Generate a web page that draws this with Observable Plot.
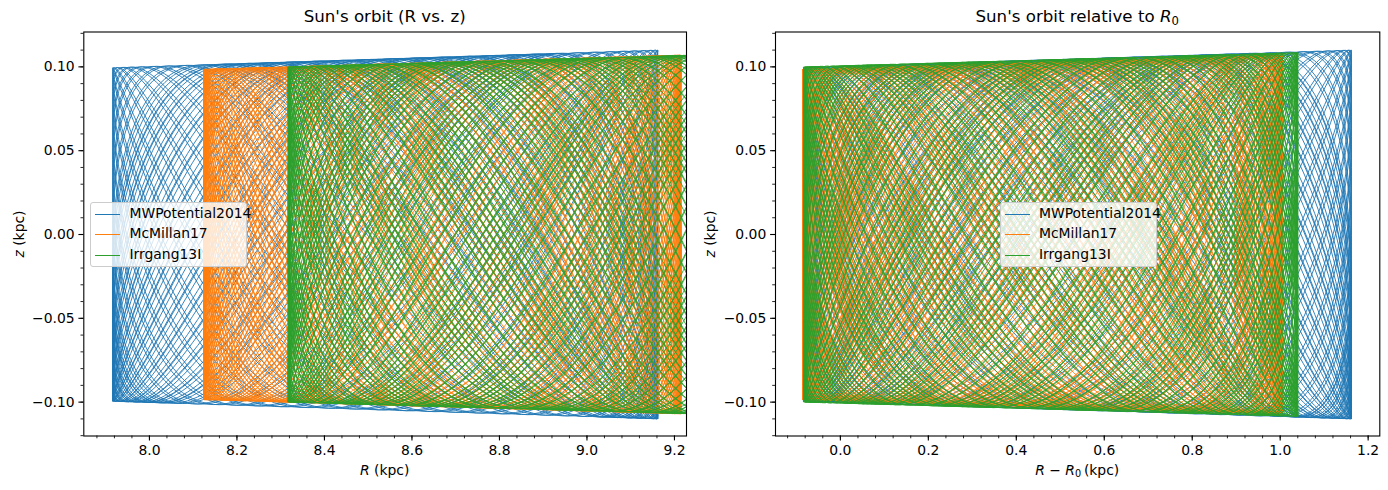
<!DOCTYPE html>
<html>
<head>
<meta charset="utf-8">
<script src="https://cdn.jsdelivr.net/npm/d3@7"></script>
<script src="https://cdn.jsdelivr.net/npm/@observablehq/plot@0.6"></script>
<style>
  body { margin: 0; background: #fff; font-family: "DejaVu Sans", sans-serif; color: #000; }
  #fig { position: relative; width: 1388px; height: 490px; overflow: hidden; background: #fff; }
  .panel { position: absolute; top: 0; }
  .txt { position: absolute; white-space: nowrap; line-height: 1; transform: translate(-50%, -50%); }
  .title { font-size: 16.67px; }
  .lab { font-size: 13.9px; }
  .rot { transform: translate(-50%, -50%) rotate(-90deg); }
  sub { font-size: 70%; vertical-align: -0.25em; line-height: 0; }
  .legend { position: absolute; background: rgba(255,255,255,0.8); border: 1px solid #cccccc; border-radius: 3px; box-sizing: border-box; font-size: 13.9px; }
  .legend .row { position: absolute; left: 0; height: 0; }
  .legend .hl { position: absolute; top: 0; width: 25px; height: 1px; }
  .legend .lt { position: absolute; line-height: 1; transform: translateY(-50%); white-space: nowrap; }
</style>
</head>
<body>
<div id="fig"></div>
<script>
// Galactic potentials compared for the Sun's orbit
const potentials = ["MWPotential2014", "McMillan17", "Irrgang13I"];
const colors = ["#1f77b4", "#ff7f0e", "#2ca02c"];
const R0 = [8.0, 8.21, 8.4];              // solar radius of each model (kpc)
const Rperi = [7.916, 8.124, 8.317];      // pericentre radius (kpc)
const Rapo = [9.162, 9.215, 9.44];        // apocentre radius (kpc)
const zMaxPeri = [0.0995, 0.0985, 0.1];   // vertical excursion at pericentre (kpc)
const zMaxApo = [0.110, 0.107, 0.1085];   // vertical excursion at apocentre (kpc)
const radialCycles = [48, 80, 68];        // radial oscillations integrated
const freqRatio = [2.03, 2.11, 2.17];     // vertical / radial frequency
const zPhase = [0.21, 0.2, 0.2];          // starting vertical phase (rad)

// axis ticks
const xTicksLeft = [8.0, 8.2, 8.4, 8.6, 8.8, 9.0, 9.2];
const xTicksRight = [0.0, 0.2, 0.4, 0.6, 0.8, 1.0, 1.2];
const yTicks = [-0.10, -0.05, 0.00, 0.05, 0.10];
const xDomainLeft = [7.850, 9.2275];
const xDomainRight = [-0.1475, 1.2265];
const yDomain = [-0.1202, 0.1208];

// epicyclic trace of each orbit in the (R, z) plane
const orbits = potentials.map((name, k) => {
  const Rc = (Rperi[k] + Rapo[k]) / 2, A = (Rapo[k] - Rperi[k]) / 2;
  const n = radialCycles[k] * 240;
  const R = new Float64Array(n + 1), z = new Float64Array(n + 1);
  for (let i = 0; i <= n; ++i) {
    const th = 2 * Math.PI * radialCycles[k] * i / n;
    const r = Rc - A * Math.cos(th + Math.PI / 2);
    const f = (r - Rperi[k]) / (Rapo[k] - Rperi[k]);
    const zmax = zMaxPeri[k] + f * (zMaxApo[k] - zMaxPeri[k]);
    R[i] = r;
    z[i] = zmax * Math.sin(freqRatio[k] * th + zPhase[k]);
  }
  return {name, R, z, k};
});

const minor = (domain, step) => d3.range(Math.ceil(domain[0] / step - 1e-9), Math.floor(domain[1] / step + 1e-9) + 1).map(i => +(i * step).toFixed(4));
const fmt1 = d3.format(".1f"), fmt2 = d3.format(".2f");

function panel({width, marginLeft, marginRight, xDomain, xTicks, relative}) {
  const marks = orbits.map(o => Plot.line(d3.range(o.R.length), {
    x: i => relative ? o.R[i] - R0[o.k] : o.R[i],
    y: i => o.z[i],
    stroke: colors[o.k], strokeWidth: 0.9, clip: true
  }));
  return Plot.plot({
    width, height: 490,
    marginLeft, marginRight, marginTop: 31.5, marginBottom: 54.5,
    x: {domain: xDomain},
    y: {domain: yDomain},
    style: {fontFamily: "DejaVu Sans", fontSize: "13.9px", color: "black", background: "transparent"},
    marks: [
      ...marks,
      Plot.frame({stroke: "black", strokeWidth: 1.1}),
      Plot.axisX(xTicks, {tickSize: 4.9, tickPadding: 4.3, tickFormat: fmt1, strokeWidth: 1.1, label: null, fontSize: 13.9}),
      Plot.axisX(minor(xDomain, 0.04), {tickSize: 2.8, text: null, strokeWidth: 0.85, label: null}),
      Plot.axisY(yTicks, {tickSize: 4.9, tickPadding: 4.3, tickFormat: fmt2, strokeWidth: 1.1, label: null, fontSize: 13.9}),
      Plot.axisY(minor(yDomain, 0.01), {tickSize: 2.8, text: null, strokeWidth: 0.85, label: null})
    ]
  });
}

const fig = document.getElementById("fig");
function place(el, left) { el.classList.add("panel"); el.style.left = left + "px"; fig.appendChild(el); }
place(panel({width: 700, marginLeft: 83.3, marginRight: 14, xDomain: xDomainLeft, xTicks: xTicksLeft, relative: false}), 0);
place(panel({width: 688, marginLeft: 75, marginRight: 8.7, xDomain: xDomainRight, xTicks: xTicksRight, relative: true}), 700);

function text(html, cls, x, y) {
  const d = document.createElement("div");
  d.className = "txt " + cls;
  d.innerHTML = html;
  d.style.left = x + "px"; d.style.top = y + "px";
  fig.appendChild(d);
}
text("Sun's orbit (R vs. z)", "title", 384.7, 17);
text("Sun's orbit relative to <i>R</i><sub>0</sub>", "title", 1077.2, 17);
text("<i>R</i> (kpc)", "lab", 384.7, 471);
text("<i>R</i> − <i>R</i><sub>0</sub>&#8201;(kpc)", "lab", 1077.2, 471);
text("<i>z</i> (kpc)", "lab rot", 20, 233.5);
text("<i>z</i> (kpc)", "lab rot", 711, 233.5);

function legend(left) {
  const box = document.createElement("div");
  box.className = "legend";
  Object.assign(box.style, {left: left + "px", top: "202px", width: "157px", height: "65px"});
  potentials.forEach((name, k) => {
    const row = document.createElement("div");
    row.className = "row";
    row.style.top = Math.round(11 + 20.4 * k) + "px";
    row.innerHTML = `<div class="hl" style="left:4px;background:${colors[k]}"></div><div class="lt" style="left:38.5px">${name}</div>`;
    box.appendChild(row);
  });
  fig.appendChild(box);
}
legend(90);
legend(999.5);
</script>
</body>
</html>
